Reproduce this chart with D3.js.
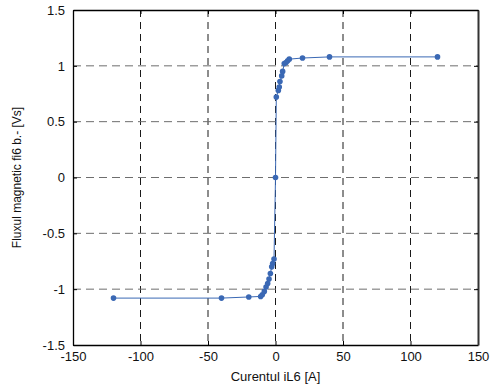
<!DOCTYPE html>
<html>
<head>
<meta charset="utf-8">
<script src="https://cdn.jsdelivr.net/npm/d3@7"></script>
<style>
  html, body { margin: 0; padding: 0; background: #fff; }
  svg { display: block; font-family: "Liberation Sans", Arial, sans-serif; }
</style>
</head>
<body>
<svg id="chart" width="494" height="388"></svg>
<script>
// Magnetization curve: current iL6 [A] vs flux fi6 [Vs]
const currentA = [-120, -40, -19.8, -11, -9.8, -8.3, -7, -5.8, -4.8, -3.8, -2.8, -2.1, -1.1, 0,
                  0.6, 2.1, 2.8, 3.3, 4.6, 5.3, 6.5, 7.8, 9, 10.2, 20, 40, 120];
const fluxVs   = [-1.08, -1.08, -1.07, -1.065, -1.05, -1.02, -0.98, -0.95, -0.91, -0.86, -0.80, -0.77, -0.73, 0,
                  0.72, 0.78, 0.81, 0.86, 0.91, 0.95, 1.02, 1.03, 1.045, 1.06, 1.07, 1.08, 1.08];
const xTicks = [-150, -100, -50, 0, 50, 100, 150];
const yTicks = [-1.5, -1, -0.5, 0, 0.5, 1, 1.5];
const xLabel = "Curentul iL6 [A]";
const yLabel = "Fluxul magnetic fi6 b.- [Vs]";

const svg = d3.select("#chart");
const margin = { left: 73, right: 16, top: 10, bottom: 43 };
const W = 494, H = 388;
const x = d3.scaleLinear().domain([-150, 150]).range([margin.left, W - margin.right]);
const y = d3.scaleLinear().domain([-1.5, 1.5]).range([H - margin.bottom, margin.top]);
const color = "#3a68b4";

// grid: vertical lines dark, horizontal lines grey
const grid = svg.append("g").attr("stroke-width", 1);
xTicks.slice(1, -1).forEach(t => grid.append("line")
  .attr("stroke", "#1a1a1a").attr("stroke-dasharray", "7,5")
  .attr("x1", x(t)).attr("x2", x(t)).attr("y1", y(1.5)).attr("y2", y(-1.5)));
yTicks.slice(1, -1).forEach(t => grid.append("line")
  .attr("stroke", "#6e6e6e").attr("stroke-dasharray", "8,5")
  .attr("y1", y(t)).attr("y2", y(t)).attr("x1", x(-150)).attr("x2", x(150)));

// axes with inward ticks
const fmt = d => String(d);
const axB = svg.append("g").attr("transform", `translate(0,${y(-1.5)})`)
  .call(d3.axisBottom(x).tickValues(xTicks).tickSizeInner(-4).tickSizeOuter(0).tickPadding(7).tickFormat(fmt));
const axL = svg.append("g").attr("transform", `translate(${x(-150)},0)`)
  .call(d3.axisLeft(y).tickValues(yTicks).tickSizeInner(-4).tickSizeOuter(0).tickPadding(8).tickFormat(fmt));
const axT = svg.append("g").attr("transform", `translate(0,${y(1.5)})`)
  .call(d3.axisTop(x).tickValues(xTicks).tickSizeInner(-4).tickSizeOuter(0).tickFormat(""));
const axR = svg.append("g").attr("transform", `translate(${x(150)},0)`)
  .call(d3.axisRight(y).tickValues(yTicks).tickSizeInner(-4).tickSizeOuter(0).tickFormat(""));
[axB, axL, axT, axR].forEach(a => {
  a.select(".domain").attr("stroke", "#000").attr("stroke-width", 1.3);
  a.selectAll(".tick line").attr("stroke", "#000");
  a.selectAll("text").attr("font-size", 13).attr("fill", "#111")
    .attr("font-family", "Liberation Sans, Arial, sans-serif");
});
axR.select(".domain").attr("stroke", "#333").attr("stroke-width", 2);

// curve
const pts = currentA.map((c, i) => [c, fluxVs[i]]);
svg.append("path").datum(pts)
  .attr("fill", "none").attr("stroke", color).attr("stroke-width", 1)
  .attr("d", d3.line().x(d => x(d[0])).y(d => y(d[1])));
svg.append("g").selectAll("circle").data(pts).join("circle")
  .attr("cx", d => x(d[0])).attr("cy", d => y(d[1])).attr("r", 2.8).attr("fill", color);

// axis titles
svg.append("text").attr("x", x(0)).attr("y", 381).attr("text-anchor", "middle")
  .attr("font-size", 13).attr("fill", "#111").text(xLabel);
svg.append("text").attr("transform", `translate(21,${y(0)}) rotate(-90)`)
  .attr("text-anchor", "middle").attr("font-size", 12).attr("fill", "#111").text(yLabel);
</script>
</body>
</html>
